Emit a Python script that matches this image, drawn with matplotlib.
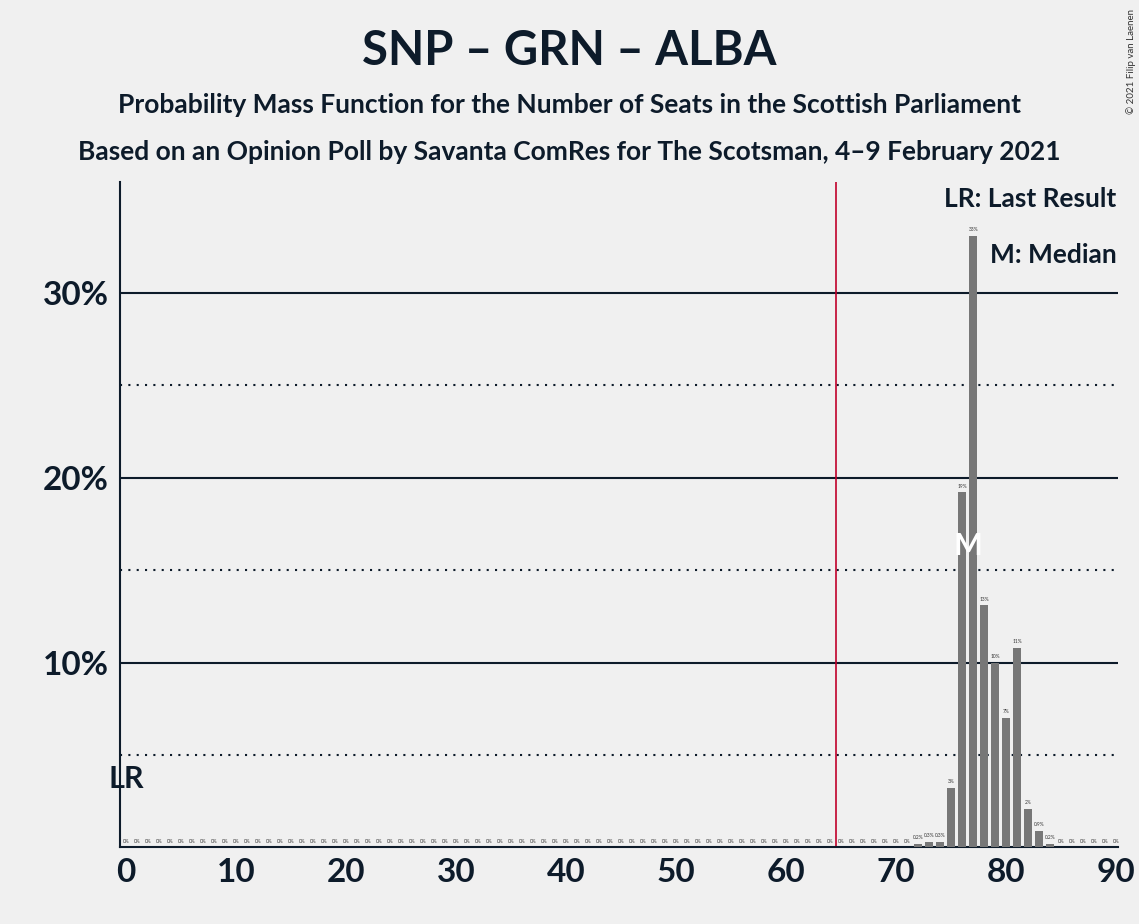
import numpy as np
import matplotlib.pyplot as plt

plt.rcParams['font.family'] = ['Lato', 'DejaVu Sans']

seats = np.arange(0, 91)
probs = np.zeros(91)
probs[72:85] = [0.2, 0.3, 0.3, 3.2, 19.2, 33.1, 13.1, 10.0, 7.0, 10.8, 2.1, 0.9, 0.2]
labels = {72: '0.2%', 73: '0.3%', 74: '0.3%', 75: '3%', 76: '19%', 77: '33%',
          78: '13%', 79: '10%', 80: '7%', 81: '11%', 82: '2%', 83: '0.9%', 84: '0.2%'}
majority = 64.5
median = 77
last_result = 0

bg = '#f0f0f0'
fig = plt.figure(figsize=(11.39, 9.24), dpi=100, facecolor=bg)
ax = fig.add_axes([0.105, 0.083, 0.877, 0.72], facecolor=bg)

for y in (10, 20, 30):
    ax.axhline(y, color='#0d1b2a', lw=1.5, zorder=1)
for y in (5, 15, 25):
    ax.axhline(y, color='#0d1b2a', lw=1.5, ls=(0, (1, 3)), zorder=1)

ax.bar(seats, probs, width=0.7, color='#777777', zorder=3)
for s, p in zip(seats, probs):
    ax.text(s, p + 0.2, labels.get(s, '0%'), ha='center', va='bottom', fontsize=3.5, color='#333333', zorder=4)

ax.axvline(majority, color='#c0002a', lw=1.2, zorder=2)
ax.text(median - 0.5, 16.3, 'M', ha='center', va='center', fontsize=22, fontweight='bold', color='white', zorder=5)
ax.text(last_result, 3.7, 'LR', ha='center', va='center', fontsize=22, fontweight='bold', color='#0d1b2a', zorder=5)

ax.set_xlim(-0.6, 90.2)
ax.set_ylim(0, 36)
ax.set_xticks(range(0, 91, 10))
ax.set_yticks([10, 20, 30])
ax.set_yticklabels(['10%', '20%', '30%'])
ax.tick_params(axis='both', length=0, labelsize=24, colors='#0d1b2a', pad=8)
for t in ax.get_xticklabels() + ax.get_yticklabels():
    t.set_fontweight('bold')
for sp in ('top', 'right'):
    ax.spines[sp].set_visible(False)
ax.spines['left'].set_color('#0d1b2a')
ax.spines['bottom'].set_color('#0d1b2a')
ax.spines['left'].set_linewidth(1.5)
ax.spines['bottom'].set_linewidth(1.5)

ax.text(0.998, 0.975, 'LR: Last Result', transform=ax.transAxes, ha='right', va='center', fontsize=19, fontweight='bold', color='#0d1b2a')
ax.text(0.998, 0.89, 'M: Median', transform=ax.transAxes, ha='right', va='center', fontsize=19, fontweight='bold', color='#0d1b2a')

fig.text(0.5, 0.945, 'SNP – GRN – ALBA', ha='center', va='center', fontsize=34, fontweight='bold', color='#0d1b2a')
fig.text(0.5, 0.886, 'Probability Mass Function for the Number of Seats in the Scottish Parliament', ha='center', va='center', fontsize=19, fontweight='bold', color='#0d1b2a')
fig.text(0.5, 0.835, 'Based on an Opinion Poll by Savanta ComRes for The Scotsman, 4–9 February 2021', ha='center', va='center', fontsize=19, fontweight='bold', color='#0d1b2a')
fig.text(0.993, 0.99, '© 2021 Filip van Laenen', rotation=90, ha='center', va='top', fontsize=7, color='#333333')

fig.savefig('out.png', dpi=100, facecolor=bg)
